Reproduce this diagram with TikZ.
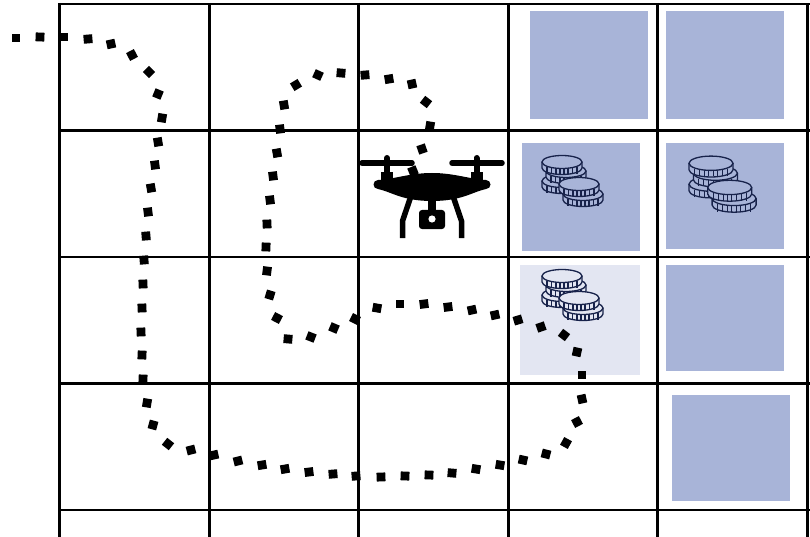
\documentclass[tikz,border=0pt]{standalone}
\definecolor{tile}{HTML}{A8B4D8}
\definecolor{tilelight}{HTML}{E3E6F2}
\definecolor{coinink}{HTML}{17224A}
\tikzset{
  gridline/.style={line width=2.6pt,black},
  dotmark/.style={fill=black,draw=none},
  pics/coin/.style={code={
    \draw[coinink,line width=1.3pt,fill=#1] (-20,0) -- (-20,6) arc[start angle=180,end angle=0,x radius=20,y radius=6.5] -- (20,0);
    \foreach \k in {-15,-10.5,-6,-2,2,6,10.5,15}
      \draw[coinink,line width=1.1pt] (\k,5) -- (\k,12);
    \draw[coinink,line width=1.3pt,fill=#1] (0,0) ellipse[x radius=20,y radius=6.5];
  }},
  pics/coins/.style={code={
    \pic at (0,19) {coin=#1};
    \pic at (4,9) {coin=#1};
    \pic at (0,0) {coin=#1};
    \pic at (21,32) {coin=#1};
    \pic at (17,22) {coin=#1};
  }}
}
\begin{document}
\begin{tikzpicture}[x=1pt,y=-1pt]
\useasboundingbox (0,0) rectangle (810,537);
% tiles
\fill[tile] (530,11) rectangle (648,119);
\fill[tile] (666,11) rectangle (784,119);
\fill[tile] (522,143) rectangle (640,251);
\fill[tile] (666,143) rectangle (784,249);
\fill[tilelight] (520,265) rectangle (640,375);
\fill[tile] (666,265) rectangle (784,371);
\fill[tile] (672,395) rectangle (790,501);
% grid
\foreach \x in {59.5,209.2,358.7,508.2,657.7,807.2}
  \draw[gridline] (\x,3) -- (\x,537);
\foreach \y in {4.2,130.8,257,383.2,510}
  \draw[gridline] (58.3,\y) -- (810,\y);
% coins
\pic at (562,162) {coins=tile};
\pic at (562,276) {coins=tilelight};
\pic[x=1.1pt,y=-1.1pt] at (646.36,148.4) {coins=tile};
% flight path
\foreach \x/\y [remember=\x as \px (initially -8),remember=\y as \py (initially 38)] in {
16/38,40/37,64/37,88/39,111/44,132/55,149/72,158/94,162/118,158/142,155/165,151/188,148/212,146/236,144/260,143/284,142/308,141/332,142/355,143/379,147/403,153/425,168/444,191/450,214/455,238/461,262/465,285/469,309/472,333/474,356/476,381/477,405/476,429/475,452/473,476/469,500/465,523/460,546/454,566/443,577/422,582/399,582/375,577/352,564/335,541/327,518/320,495/315,472/310,448/307,424/304,400/304,377/308,355/319,334/328,311/337,288/339,277/318,270/295,267/271,266/247,267/224,270/200,273/176,277/153,280/129,284/105,296/85,318/75,341/73,365/75,389/79,412/84,426/102,430/126,422/149,413/171}{
  \pgfmathsetmacro\ang{atan2(\y-\py,\x-\px)}
  \fill[dotmark,rotate around={\ang:(\x,\y)}] (\x-4.4,\y-4.4) rectangle (\x+4.4,\y+4.4);
}
% drone
\begin{scope}[black]
  \draw[line width=5.5pt,line cap=round] (362,163) -- (412,163);
  \draw[line width=5.5pt,line cap=round] (452,163) -- (502,163);
  \draw[line width=6pt,line cap=round] (387,158) -- (387,176);
  \draw[line width=6pt,line cap=round] (476.5,158) -- (476.5,176);
  \fill (381,172) rectangle (393,184);
  \fill (470.5,172) rectangle (482.5,184);
  \fill (378,180) .. controls (395,179) and (410,173) .. (432,173) .. controls (454,173) and (469,179) .. (486,180)
    arc[start angle=-90,end angle=90,radius=4.5]
    .. controls (472,192) and (462,201) .. (432,201) .. controls (402,201) and (392,192) .. (378,189)
    arc[start angle=90,end angle=270,radius=4.5] -- cycle;
  \draw[line width=5.5pt] (411,196) -- (402.5,221) -- (402.5,238);
  \draw[line width=5.5pt] (453,196) -- (461.5,221) -- (461.5,238);
  \fill (428,198) rectangle (436,212);
  \fill[rounded corners=3pt] (419,210) rectangle (445,229);
  \fill[white] (432,219) circle[radius=3.6];
\end{scope}
\end{tikzpicture}
\end{document}
